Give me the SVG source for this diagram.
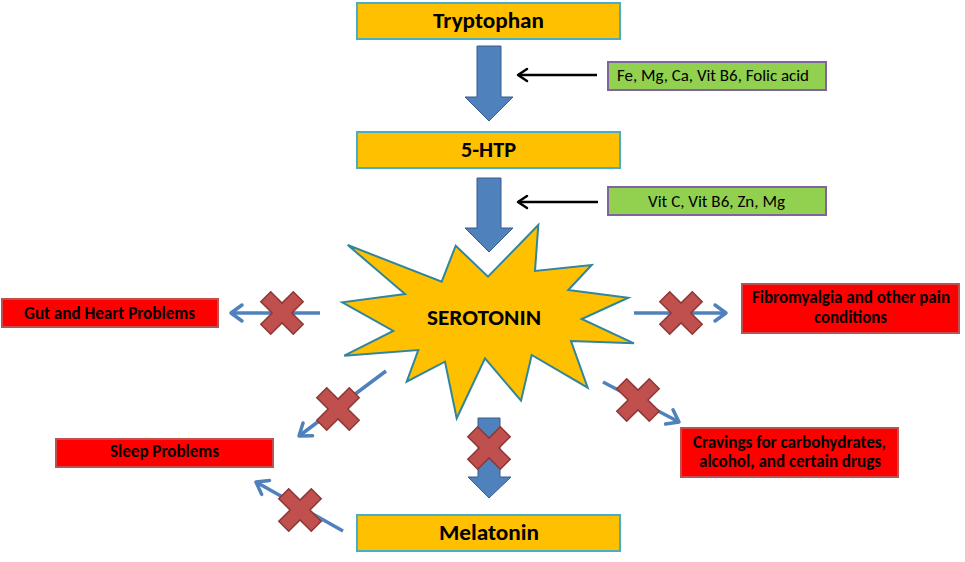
<svg xmlns="http://www.w3.org/2000/svg" width="965" height="562" viewBox="0 0 965 562">
<style>
.t{font-family:Carlito,Lato,"Open Sans","Liberation Sans",sans-serif;fill:#000;text-anchor:middle}
.b{font-weight:bold}
.ybox{fill:#ffc000;stroke:#4bacc6;stroke-width:2}
.gbox{fill:#92d050;stroke:#8064a2;stroke-width:2}
.rbox{fill:#ff0000;stroke:#c0504d;stroke-width:2}
.blk{fill:#4f81bd;stroke:#385d8a;stroke-width:1}
.bl{stroke:#4f81bd;stroke-width:3.5;fill:none}
.kl{stroke:#000;stroke-width:2.5;fill:none}
.xx{fill:#c0504d;stroke:#8c3836;stroke-width:1.5}
</style>
<defs>
<marker id="ba" markerUnits="userSpaceOnUse" markerWidth="24" markerHeight="24" viewBox="-14 -12 24 24" refX="0" refY="0" orient="auto" overflow="visible"><path d="M-11,-8 L0,0 L-11,8" fill="none" stroke="#4f81bd" stroke-width="3.5" stroke-linecap="round" stroke-linejoin="round"/></marker>
<marker id="ka" markerUnits="userSpaceOnUse" markerWidth="20" markerHeight="20" viewBox="-12 -10 20 20" refX="0" refY="0" orient="auto" overflow="visible"><path d="M-9,-6 L0,0 L-9,6" fill="none" stroke="#000" stroke-width="2.5" stroke-linecap="round" stroke-linejoin="round"/></marker>
<path id="cross" d="M0,-9.9 L11.3,-21.2 L21.2,-11.3 L9.9,0 L21.2,11.3 L11.3,21.2 L0,9.9 L-11.3,21.2 L-21.2,11.3 L-9.9,0 L-21.2,-11.3 L-11.3,-21.2 Z"/>
</defs>

<g id="connectors">
<path class="blk" d="M477,46 H501 V97 H513 L489,121 L465,97 H477 Z"/>
<path class="blk" d="M477,178 H501 V228 H513 L489,252 L465,228 H477 Z"/>
<line class="kl" x1="597" y1="75" x2="518" y2="75" marker-end="url(#ka)"/>
<line class="kl" x1="598" y1="202" x2="518" y2="202" marker-end="url(#ka)"/>
<line class="bl" x1="320" y1="313" x2="231" y2="313" marker-end="url(#ba)"/>
<line class="bl" x1="634" y1="313" x2="726" y2="313" marker-end="url(#ba)"/>
<line class="bl" x1="603" y1="382" x2="679" y2="422" marker-end="url(#ba)"/>
<line class="bl" x1="386" y1="371" x2="299" y2="436" marker-end="url(#ba)"/>
<line class="bl" x1="343" y1="531" x2="256" y2="482" marker-end="url(#ba)"/>
<path class="blk" d="M478,418 H500 V477 H511 L489,498 L468,477 H478 Z"/>
<use href="#cross" class="xx" x="282" y="313"/>
<use href="#cross" class="xx" x="681" y="313"/>
<use href="#cross" class="xx" x="638" y="400"/>
<use href="#cross" class="xx" x="338" y="409"/>
<use href="#cross" class="xx" x="300" y="510"/>
<use href="#cross" class="xx" x="489" y="448"/>
</g>

<g id="tryptophan">
<rect class="ybox" x="357" y="3" width="263" height="36"/>
<text class="t b" x="488.5" y="28" font-size="22" textLength="111" lengthAdjust="spacingAndGlyphs">Tryptophan</text>
</g>
<g id="htp">
<rect class="ybox" x="357" y="132" width="263" height="36"/>
<text class="t b" x="488.5" y="157" font-size="22" textLength="55" lengthAdjust="spacingAndGlyphs">5-HTP</text>
</g>
<g id="cofactors1">
<rect class="gbox" x="608" y="62" width="218" height="28"/>
<text class="t" x="713" y="81" font-size="17" textLength="192" lengthAdjust="spacingAndGlyphs">Fe, Mg, Ca, Vit B6, Folic acid</text>
</g>
<g id="cofactors2">
<rect class="gbox" x="608" y="187" width="218" height="28"/>
<text class="t" x="716.5" y="207" font-size="17" textLength="137" lengthAdjust="spacingAndGlyphs">Vit C, Vit B6, Zn, Mg</text>
</g>
<g id="serotonin">
<path fill="#ffc000" stroke="#31859c" stroke-width="2" stroke-linejoin="miter" d="M347.7,245 L441.7,281.7 L455.7,245.7 L488,276.7 L538.3,225 L535,271 L591.7,265 L568.3,290 L628.3,297.7 L581.7,319 L634,343.3 L571,341 L587.7,387.7 L531.7,355 L521,400.7 L485,358.3 L456.7,418.3 L445,361.7 L406.7,381.7 L418.3,350 L344.3,355.7 L393.3,331 L342.3,302.3 L405,294 Z"/>
<text class="t b" x="484" y="325" font-size="22" textLength="114" lengthAdjust="spacingAndGlyphs">SEROTONIN</text>
</g>
<g id="gut">
<rect class="rbox" x="2" y="299" width="216" height="28"/>
<text class="t b" x="109.5" y="319" font-size="17" textLength="171" lengthAdjust="spacingAndGlyphs">Gut and Heart Problems</text>
</g>
<g id="sleep">
<rect class="rbox" x="56" y="439" width="217" height="28"/>
<text class="t b" x="164.5" y="457" font-size="17" textLength="109" lengthAdjust="spacingAndGlyphs">Sleep Problems</text>
</g>
<g id="fibro">
<rect class="rbox" x="742" y="284" width="217" height="49"/>
<text class="t b" x="851" y="303" font-size="17" textLength="198" lengthAdjust="spacingAndGlyphs">Fibromyalgia and other pain</text>
<text class="t b" x="850.5" y="323" font-size="17" textLength="73" lengthAdjust="spacingAndGlyphs">conditions</text>
</g>
<g id="cravings">
<rect class="rbox" x="681" y="428" width="217" height="49"/>
<text class="t b" x="789.5" y="448" font-size="17" textLength="193" lengthAdjust="spacingAndGlyphs">Cravings for carbohydrates,</text>
<text class="t b" x="790" y="467" font-size="17" textLength="182" lengthAdjust="spacingAndGlyphs">alcohol, and certain drugs</text>
</g>
<g id="melatonin">
<rect class="ybox" x="357" y="515" width="263" height="36"/>
<text class="t b" x="489" y="540" font-size="22" textLength="100" lengthAdjust="spacingAndGlyphs">Melatonin</text>
</g>
</svg>
